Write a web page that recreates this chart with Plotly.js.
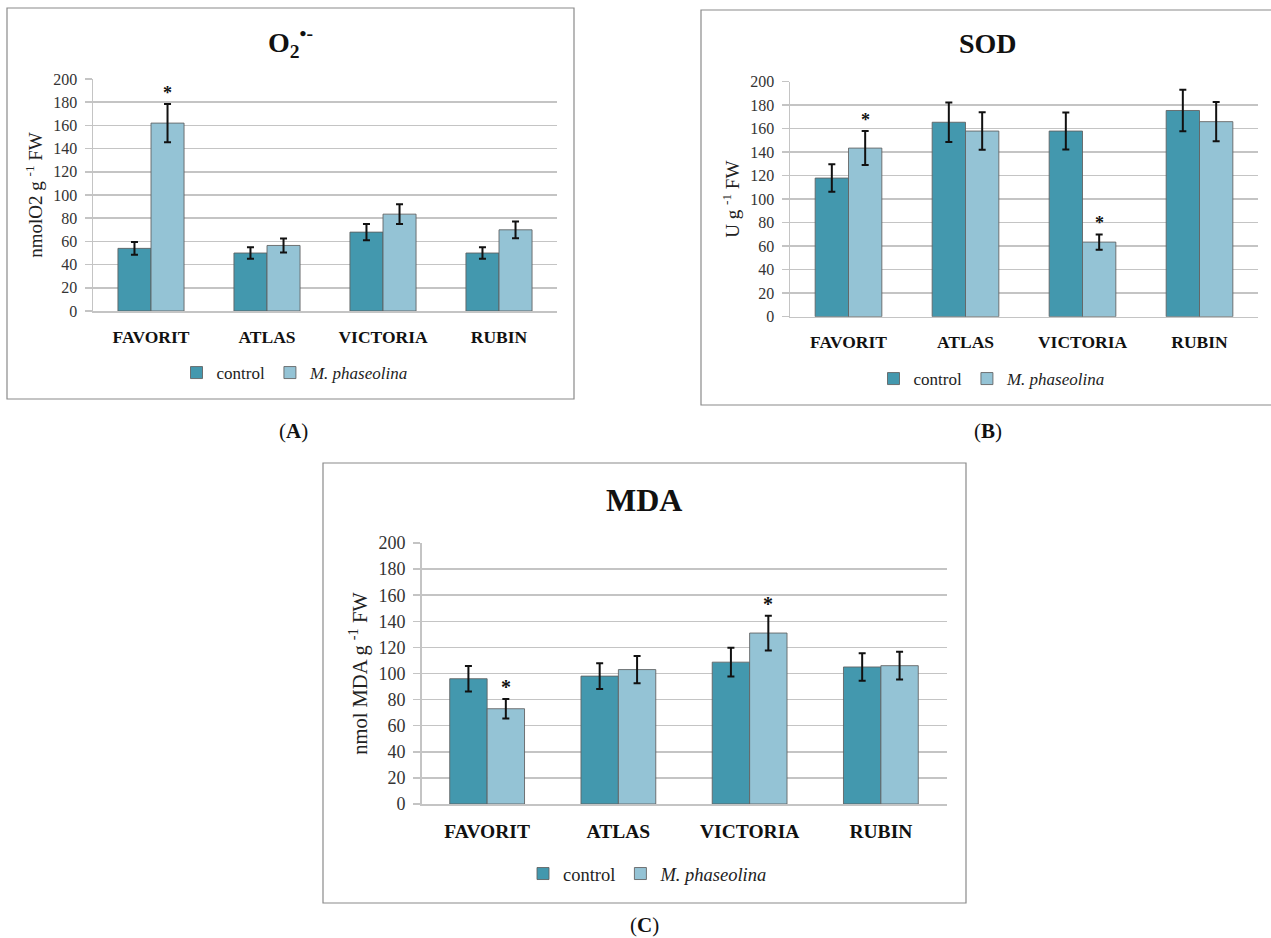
<!DOCTYPE html>
<html>
<head>
<meta charset="utf-8">
<script src="https://cdn.plot.ly/plotly-3.0.1.min.js"></script>
<style>html,body{margin:0;padding:0;background:#fff;}#chart{width:1271px;height:938px;}</style>
</head>
<body>
<div id="chart"></div>
<script>
// ---------- data ----------
const categories = ['FAVORIT', 'ATLAS', 'VICTORIA', 'RUBIN'];
const seriesNames = ['control', '<i>M. phaseolina</i>'];

// Panel A: O2•-
const controlA = [54, 50, 68, 50];
const controlAErr = [5.5, 5, 7, 5];
const phaseolinaA = [162, 56.5, 83.5, 70];
const phaseolinaAErr = [16.5, 6, 8.5, 7.2];
const sigA = [true, false, false, false];

// Panel B: SOD
const controlB = [118, 165.5, 158, 175.5];
const controlBErr = [11.7, 16.8, 15.8, 17.6];
const phaseolinaB = [143.5, 158, 63.5, 166];
const phaseolinaBErr = [14.5, 16, 6.5, 16.7];
const sigB = [true, false, true, false];

// Panel C: MDA
const controlC = [96, 98, 108.7, 105];
const controlCErr = [9.8, 9.8, 11, 10.6];
const phaseolinaC = [73, 103, 131, 106];
const phaseolinaCErr = [7.5, 10.4, 13.3, 10.6];
const sigC = [true, false, true, false];

const yTicks = [0, 20, 40, 60, 80, 100, 120, 140, 160, 180, 200];

// ---------- styling / layout helpers ----------
const W = 1271, H = 938;
const fx = x => x / W;
const fy = y => 1 - y / H;
const SERIF = '"Liberation Serif", "Times New Roman", serif';
const C_CTRL = '#4398AE', C_MP = '#94C3D5';
const GRID = '#C4C4C4';
const BARGAP = 0.43;

function barTrace(y, err, name, color, xa, ya, legend) {
  return {
    type: 'bar', x: categories, y: y, name: name,
    xaxis: xa, yaxis: ya, legend: legend,
    marker: {color: color, line: {color: 'rgba(95,95,95,0.85)', width: 1}},
    error_y: {type: 'data', array: err, visible: true, color: '#111', thickness: 2, width: 3.5},
    hoverinfo: 'skip'
  };
}

const data = [
  barTrace(controlA, controlAErr, seriesNames[0], C_CTRL, 'x', 'y', 'legend'),
  barTrace(phaseolinaA, phaseolinaAErr, seriesNames[1], C_MP, 'x', 'y', 'legend'),
  barTrace(controlB, controlBErr, seriesNames[0], C_CTRL, 'x2', 'y2', 'legend2'),
  barTrace(phaseolinaB, phaseolinaBErr, seriesNames[1], C_MP, 'x2', 'y2', 'legend2'),
  barTrace(controlC, controlCErr, seriesNames[0], C_CTRL, 'x3', 'y3', 'legend3'),
  barTrace(phaseolinaC, phaseolinaCErr, seriesNames[1], C_MP, 'x3', 'y3', 'legend3')
];

function xAxis(x0, x1, anchor, fs) {
  return {
    domain: [fx(x0), fx(x1)], anchor: anchor, type: 'category',
    showline: true, linecolor: GRID, linewidth: 1.5, ticks: '',
    showgrid: false, zeroline: false, fixedrange: true,
    tickfont: {family: SERIF, size: fs, color: '#111', weight: 'bold'},
    ticklabelstandoff: 9
  };
}
function yAxis(y0, y1, anchor, title, fs, tfs, standoff) {
  return {
    domain: [fy(y1), fy(y0)], anchor: anchor, range: [0, 200],
    tickvals: yTicks, ticktext: yTicks.map(String),
    showline: true, linecolor: GRID, linewidth: 1.5,
    ticks: 'outside', ticklen: 7, tickcolor: GRID, tickwidth: 1.5,
    showgrid: true, gridcolor: GRID, gridwidth: 1.5, zeroline: false, fixedrange: true,
    tickfont: {family: SERIF, size: tfs, color: '#333'},
    ticklabelstandoff: 4,
    title: {text: title, font: {family: SERIF, size: fs, color: '#222'}, standoff: standoff}
  };
}

// plot-area pixel boxes
const A = {x0: 93, x1: 557, y0: 79, y1: 311};
const B = {x0: 790, x1: 1258, y0: 81.7, y1: 316.7};
const Cc = {x0: 421.5, x1: 946.5, y0: 543, y1: 804};

function starAnnotations(sig, vals, errs, xref, yref, fs) {
  const off = (1 - BARGAP) / 4;
  const out = [];
  sig.forEach((s, i) => {
    if (s) out.push({
      x: i + off, y: vals[i] + errs[i], xref: xref, yref: yref,
      text: '*', showarrow: false, yanchor: 'bottom', xanchor: 'center',
      font: {family: SERIF, size: fs, color: '#111', weight: 'bold'}, yshift: -1
    });
  });
  return out;
}

function textAnn(x, y, text, size, extra) {
  return Object.assign({
    x: fx(x), y: fy(y), xref: 'paper', yref: 'paper', text: text, showarrow: false,
    xanchor: 'center', yanchor: 'middle', font: {family: SERIF, size: size, color: '#111'}
  }, extra || {});
}

const annotations = [
  textAnn(290, 42, '<b>O<sub>2</sub><sup>•-</sup></b>', 28),
  textAnn(988, 44, '<b>SOD</b>', 28),
  textAnn(644, 500, '<b>MDA</b>', 32),
  textAnn(293, 431, '(<b>A</b>)', 21),
  textAnn(988, 431, '(<b>B</b>)', 21),
  textAnn(644, 925, '(<b>C</b>)', 21)
].concat(
  starAnnotations(sigA, phaseolinaA, phaseolinaAErr, 'x', 'y', 18),
  starAnnotations(sigB, phaseolinaB, phaseolinaBErr, 'x2', 'y2', 18),
  starAnnotations(sigC, phaseolinaC, phaseolinaCErr, 'x3', 'y3', 20)
);

function legendCfg(x, y, fs) {
  return {
    orientation: 'h', x: fx(x), y: fy(y), xanchor: 'center', yanchor: 'middle',
    xref: 'paper', yref: 'paper', bgcolor: 'rgba(0,0,0,0)',
    font: {family: SERIF, size: fs, color: '#222'}, itemwidth: 30, tracegroupgap: 0
  };
}

const boxLine = {color: '#8A8A8A', width: 1.2};
const shapes = [
  {type: 'rect', xref: 'paper', yref: 'paper', x0: fx(7), x1: fx(574), y0: fy(399), y1: fy(8), line: boxLine},
  {type: 'rect', xref: 'paper', yref: 'paper', x0: fx(701), x1: fx(1290), y0: fy(405), y1: fy(10), line: boxLine},
  {type: 'rect', xref: 'paper', yref: 'paper', x0: fx(323), x1: fx(966), y0: fy(903), y1: fy(463), line: boxLine}
];

const layout = {
  width: W, height: H, margin: {l: 0, r: 0, t: 0, b: 0},
  paper_bgcolor: '#fff', plot_bgcolor: '#fff',
  barmode: 'group', bargap: BARGAP, bargroupgap: 0,
  showlegend: true,
  xaxis: xAxis(A.x0, A.x1, 'y', 17.5),
  yaxis: yAxis(A.y0, A.y1, 'x', 'nmolO2 g <sup>-1</sup> FW', 19, 16, 5),
  xaxis2: xAxis(B.x0, B.x1, 'y2', 17.5),
  yaxis2: yAxis(B.y0, B.y1, 'x2', 'U g <sup>-1</sup> FW', 19, 16, 5),
  xaxis3: xAxis(Cc.x0, Cc.x1, 'y3', 19.5),
  yaxis3: yAxis(Cc.y0, Cc.y1, 'x3', 'nmol MDA g <sup>-1</sup> FW', 20.5, 18, 5),
  legend: legendCfg(295, 373, 17),
  legend2: legendCfg(992, 379, 17),
  legend3: legendCfg(648, 874, 18.5),
  annotations: annotations,
  shapes: shapes
};

Plotly.newPlot('chart', data, layout, {staticPlot: true, displayModeBar: false});
</script>
</body>
</html>
